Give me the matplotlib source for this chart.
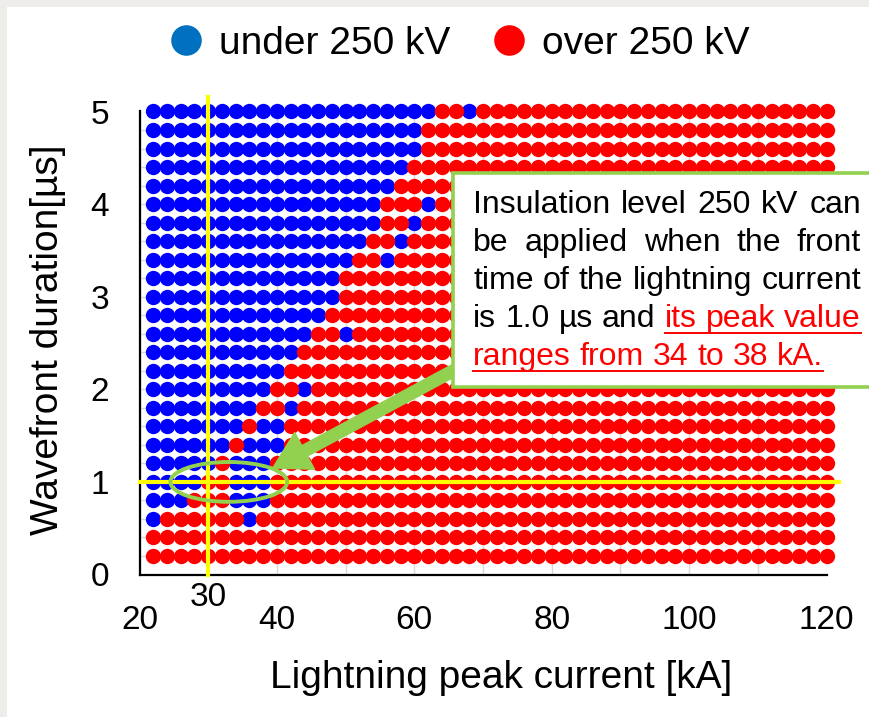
import matplotlib
matplotlib.use('Agg')
import matplotlib.pyplot as plt
from matplotlib.lines import Line2D
from matplotlib.patches import Ellipse, Rectangle
import numpy as np

plt.rcParams['font.family'] = ['Liberation Sans', 'DejaVu Sans']

# grid of simulated cases
currents = np.arange(22, 121, 2)           # kA
durations = [5.0, 4.8, 4.6, 4.4, 4.2, 4.0, 3.8, 3.6, 3.4, 3.2, 3.0, 2.8, 2.6,
             2.4, 2.2, 2.0, 1.8, 1.6, 1.4, 1.2, 1.0, 0.8, 0.6, 0.4, 0.2]  # us
# first current (kA) in each row where the overvoltage goes over 250 kV
red_from = [64, 62, 62, 60, 58, 56, 56, 54, 52, 50, 50, 48, 46,
            44, 42, 40, 38, 36, 34, 32, 30, 28, 24, 22, 22]
# isolated "under 250 kV" cases above that threshold
island_dur = [5.0, 4.0, 3.8, 3.6, 3.4, 2.6, 2.0, 1.8, 1.6, 1.6, 1.4, 1.4, 1.4,
              1.2, 1.2, 1.2, 1.0, 1.0, 1.0, 0.8, 0.8, 0.8, 0.6]
island_ka = [68, 62, 60, 58, 56, 50, 44, 42, 38, 40, 36, 38, 40,
             34, 36, 38, 34, 36, 38, 34, 36, 38, 36]

BLUE = '#0000ff'
RED = '#ff0000'
GREEN = '#92d050'
YELLOW = '#ffff00'

W, H = 869, 717
fig = plt.figure(figsize=(W / 100, H / 100), dpi=100)
fig.patch.set_facecolor('#eeede9')
fig.patches.append(Rectangle((7 / W, 0), 1, 1 - 7 / H, transform=fig.transFigure,
                             facecolor='white', edgecolor='none', zorder=-1))

ax = fig.add_axes([139.5 / W, 1 - 574.5 / H, 687 / W, 463 / H])
ax.set_facecolor('none')

islands = set(zip(island_dur, island_ka))
bx, by, rx, ry = [], [], [], []
for d, r0 in zip(durations, red_from):
    for c in currents:
        if c < r0 or (d, int(c)) in islands:
            bx.append(c); by.append(d)
        else:
            rx.append(c); ry.append(d)

ax.scatter(bx, by, s=122, color=BLUE, linewidths=0, zorder=3, clip_on=False)
ax.scatter(rx, ry, s=122, color=RED, linewidths=0, zorder=3, clip_on=False)

ax.set_xlim(20, 120)
ax.set_ylim(0, 5)
ax.set_xticks([20, 40, 60, 80, 100, 120])
ax.set_xticks([30, 50, 70, 90, 110], minor=True)
ax.set_yticks([0, 1, 2, 3, 4, 5])
ax.set_yticks(np.arange(0.2, 5, 0.2), minor=True)
ax.grid(which='both', color='#d9d9d9', lw=1.0, zorder=1)
ax.set_axisbelow(True)
ax.tick_params(which='both', length=0, labelsize=24)
ax.tick_params(axis='x', pad=22)
ax.tick_params(axis='y', pad=22)
for s in ['top', 'right']:
    ax.spines[s].set_visible(False)
for s in ['left', 'bottom']:
    ax.spines[s].set_linewidth(1.6)
    ax.spines[s].set_zorder(2)

# crosshair at 30 kA / 1.0 us
ax.plot([30, 30], [0, 5.16], color=YELLOW, lw=3.0, zorder=4, clip_on=False)
ax.plot([20, 121.8], [1.0, 1.0], color=YELLOW, lw=3.0, zorder=4, clip_on=False)
ax.text(30, -0.05, '30', transform=ax.get_xaxis_transform(), ha='center',
        va='center', fontsize=24)

ax.add_patch(Ellipse((33.0, 1.0), 17, 0.43, facecolor='none', edgecolor=GREEN,
                     lw=2.8, zorder=5, clip_on=False))

ax.annotate('', xy=(39.4, 1.15), xytext=(66.4, 2.23),
            arrowprops=dict(arrowstyle='simple,head_length=2.6,head_width=3.0,tail_width=0.85',
                            color=GREEN, shrinkA=0, shrinkB=0, mutation_scale=10),
            zorder=5, annotation_clip=False)

# annotation box
fig.patches.append(Rectangle((453 / W, 1 - 387 / H), 0.6, 214 / H, transform=fig.transFigure,
                             facecolor='white', edgecolor=GREEN, lw=2.6, zorder=6))

fig.text(501 / W, 1 - 688 / H, 'Lightning peak current [kA]', ha='center',
         va='baseline', fontsize=28)
fig.text(48 / W, 1 - 340 / H, 'Wavefront duration[µs]', ha='center', va='center',
         rotation=90, fontsize=28)

handles = [Line2D([], [], ls='none', marker='o', ms=22, color='#0070c0', mew=0),
           Line2D([], [], ls='none', marker='o', ms=22, color=RED, mew=0)]
fig.legend(handles, ['under 250 kV', 'over 250 kV'], loc='center',
           bbox_to_anchor=(458 / W, 1 - 44 / H), ncol=2, frameon=False, fontsize=28,
           handlelength=1.0, handletextpad=0.35, columnspacing=1.0)

# justified note text
note = [
    [('Insulation', 'k'), ('level', 'k'), ('250', 'k'), ('kV', 'k'), ('can', 'k')],
    [('be', 'k'), ('applied', 'k'), ('when', 'k'), ('the', 'k'), ('front', 'k')],
    [('time', 'k'), ('of', 'k'), ('the', 'k'), ('lightning', 'k'), ('current', 'k')],
    [('is', 'k'), ('1.0', 'k'), ('µs', 'k'), ('and', 'k'), ('its', RED), ('peak', RED),
     ('value', RED)],
    [('ranges', RED), ('from', RED), ('34', RED), ('to', RED), ('38', RED), ('kA.', RED)],
]
left, right = 473, 861
base0, step = 213, 38
fs = 23
fig.canvas.draw()
renderer = fig.canvas.get_renderer()
space = 0.278 * fs * 100 / 72
for li, words in enumerate(note):
    yb = base0 + li * step
    texts = [fig.text(0, 1 - yb / H, w, color=c, fontsize=fs, va='baseline', ha='left',
                      zorder=7) for w, c in words]
    widths = [t.get_window_extent(renderer).width for t in texts]
    if li < len(note) - 1:
        gap = (right - left - sum(widths)) / (len(words) - 1)
    else:
        gap = space
    x = left
    ul_start = None
    for t, wdt, (w, c) in zip(texts, widths, words):
        t.set_x(x / W)
        if c == RED:
            if ul_start is None:
                ul_start = x
            ul_end = x + wdt
        x += wdt + gap
    if ul_start is not None:
        fig.add_artist(Line2D([ul_start / W, ul_end / W], [1 - (yb + 6) / H] * 2,
                              transform=fig.transFigure, color=RED, lw=1.4, zorder=7))

fig.savefig('out.png', dpi=100, facecolor=fig.get_facecolor())
